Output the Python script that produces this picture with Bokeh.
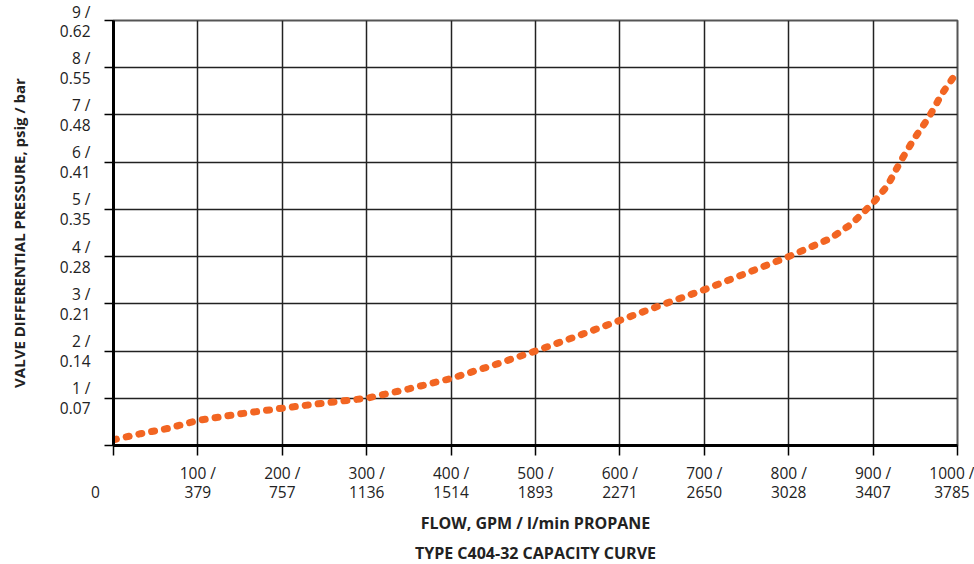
from bokeh.plotting import figure
from bokeh.models import Range1d, FixedTicker, Title
from bokeh.embed import file_html
from bokeh.resources import INLINE

# Data
flow_gpm = [0, 32, 64, 100, 150, 200, 250, 300, 350, 400, 450, 500, 550, 600,
            650, 700, 750, 800, 850, 875, 900, 917, 932, 948, 966, 982, 1000]
pressure_psig = [0.12, 0.25, 0.36, 0.53, 0.67, 0.79, 0.9, 1.0, 1.2, 1.42, 1.7, 2.0, 2.32, 2.65,
                 2.98, 3.3, 3.65, 4.0, 4.39, 4.7, 5.14, 5.5, 6.0, 6.48, 6.95, 7.46, 7.92]

NB = "\u00a0"
x_ticks = [0, 100, 200, 300, 400, 500, 600, 700, 800, 900, 1000]
x_tick_labels = [NB + "\n0" + NB * 9, "100 /\n379", "200 /\n757", "300 /\n1136", "400 /\n1514",
                 "500 /\n1893", "600 /\n2271", "700 /\n2650", "800 /\n3028", "900 /\n3407",
                 "1000 /\n3785"]
y_ticks = [0, 1, 2, 3, 4, 5, 6, 7, 8, 9]
y_tick_labels = ["", "1 /\n0.07", "2 /\n0.14", "3 /\n0.21", "4 /\n0.28", "5 /\n0.35",
                 "6 /\n0.41", "7 /\n0.48", "8 /\n0.55", "9 /\n0.62"]

FONT = "Open Sans"
TXT = "#222222"

p = figure(frame_width=844, frame_height=425, output_backend="svg", toolbar_location=None,
           x_range=Range1d(0, 1000), y_range=Range1d(0, 9),
           min_border_left=113, min_border_right=17, min_border_top=20, min_border_bottom=112)

p.background_fill_color = "white"
p.outline_line_color = "#555555"
p.outline_line_width = 2

# Axes
p.xaxis.ticker = FixedTicker(ticks=x_ticks)
p.yaxis.ticker = FixedTicker(ticks=y_ticks)
p.xaxis.major_label_overrides = {t: l for t, l in zip(x_ticks, x_tick_labels)}
p.yaxis.major_label_overrides = {t: l for t, l in zip(y_ticks, y_tick_labels)}
for ax in (p.xaxis, p.yaxis):
    ax.axis_line_color = "black"
    ax.axis_line_width = 3
    ax.major_tick_line_color = "black"
    ax.major_tick_line_width = 1.5
    ax.major_tick_in = 0
    ax.minor_tick_line_color = None
    ax.major_label_text_font = FONT
    ax.major_label_text_font_size = "15.5px"
    ax.major_label_text_line_height = 0.9
    ax.major_label_text_color = TXT
    ax.axis_label_text_font = FONT
    ax.axis_label_text_font_style = "bold"
    ax.axis_label_text_color = TXT
p.xaxis.major_tick_out = 10
p.yaxis.major_tick_out = 9
p.xaxis.major_label_standoff = 6
p.yaxis.major_label_standoff = 14

p.xaxis.axis_label = "FLOW, GPM / l/min PROPANE"
p.xaxis.axis_label_text_font_size = "16px"
p.xaxis.axis_label_standoff = 6
p.yaxis.axis_label = "VALVE DIFFERENTIAL PRESSURE, psig / bar"
p.yaxis.axis_label_text_font_size = "15px"
p.yaxis.axis_label_standoff = 28

p.add_layout(Title(text="TYPE C404-32 CAPACITY CURVE", align="center", text_font=FONT,
                   text_font_style="bold", text_font_size="16px", text_color=TXT,
                   standoff=4, offset=0), "below")

p.xgrid.grid_line_color = "#222222"
p.ygrid.grid_line_color = "#222222"
p.xgrid.grid_line_width = 1.5
p.ygrid.grid_line_width = 1.5

# Curve
p.line(flow_gpm, pressure_psig, line_color="#F26522", line_width=7,
       line_dash="3 10", line_cap="round")

open("out.html", "w").write(file_html(p, INLINE))
